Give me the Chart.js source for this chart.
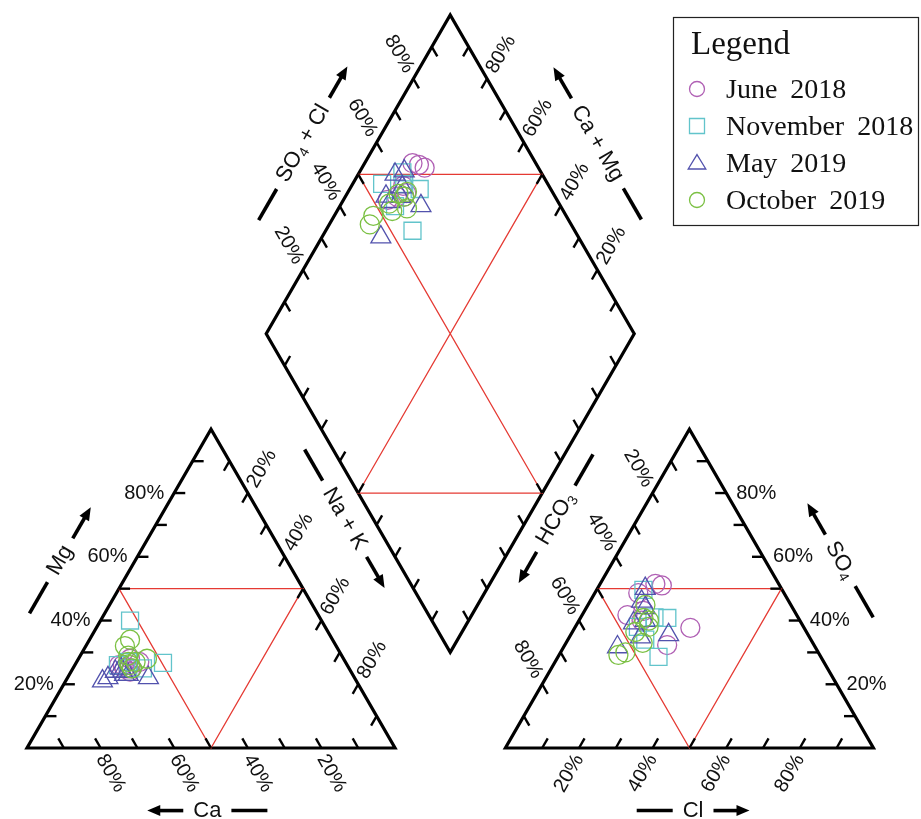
<!DOCTYPE html>
<html>
<head>
<meta charset="utf-8">
<title>Piper diagram</title>
<script src="https://cdn.jsdelivr.net/npm/chart.js@4.4.0/dist/chart.umd.min.js"></script>
<style>
    html, body { margin: 0; padding: 0; background: #fff; }
    #wrap { width: 921px; height: 819px; position: relative; }
</style>
</head>
<body>
<div id="wrap"><canvas id="piperChart"></canvas></div>
<script>
// series
const seriesNames = ['June 2018', 'November 2018', 'May 2019', 'October 2019'];
const seriesColors = ['#b060b4', '#62c4cb', '#5252ad', '#7bc043'];
const seriesShapes = ['circle', 'rect', 'triangle', 'circle'];

// cations in % meq/L: Mg and Na+K (Ca is the rest)
// anions in % meq/L: SO4 and Cl (HCO3 is the rest)
const juneMg = [26, 25, 27, 25, 26, 24, 28, 25];
const juneNa = [13, 15, 17, 14, 12, 16, 14, 16];
const juneSO4 = [51.5, 51, 37.7, 48.6, 41.7, 32.3, 40, 43];
const juneCl = [15, 17, 31.4, 11.8, 12.3, 27.8, 17, 16];

const novMg = [40, 26.7, 25, 26, 27, 25];
const novNa = [8, 23.6, 19, 11.7, 14, 15];
const novSO4 = [34, 28.6, 40.8, 49.6, 41, 38];
const novCl = [21, 27.3, 23.6, 12.7, 20, 17];

const mayMg = [24, 22, 23, 25, 22, 24, 21, 23];
const mayNa = [12, 22, 16, 13, 11, 14, 10, 15];
const maySO4 = [50, 35.5, 31.7, 39.2, 34.8, 44, 46, 40];
const mayCl = [13, 26.6, 14.6, 15.2, 19.3, 16, 14, 18];

const octMg = [34, 32, 28, 27, 26, 29, 25, 27];
const octNa = [11, 10.6, 18.6, 14, 15, 13, 16, 16];
const octSO4 = [29.2, 30, 40.8, 38, 36.4, 33, 44.9, 40];
const octCl = [16.1, 17.6, 17.1, 19.9, 17.1, 20.8, 15.6, 19];

const tickSteps = [10, 20, 30, 40, 50, 60, 70, 80, 90];
const tickLabels = ['20%', '40%', '60%', '80%'];

// piper geometry (triangle side = 1, gap between triangles = 0.3)
const SIN60 = Math.sqrt(3) / 2;
const GAP = 0.3;

function cationXY(mg, na) {
    return { x: (na + mg / 2) / 100, y: mg / 100 * SIN60 };
}
function anionXY(so4, cl) {
    return { x: 1 + GAP + (cl + so4 / 2) / 100, y: so4 / 100 * SIN60 };
}
// na = Na+K %, a = SO4+Cl %
function diamondXY(na, a) {
    const bx = 1 + GAP / 2, by = GAP / 2 * Math.tan(Math.PI / 3);
    const n = na / 100, s = a / 100;
    return { x: bx + (s - (1 - n)) / 2, y: by + (s + 1 - n) * SIN60 };
}

function buildPoints(mg, na, so4, cl) {
    const pts = [];
    mg.forEach((v, i) => pts.push(cationXY(v, na[i])));
    so4.forEach((v, i) => pts.push(anionXY(v, cl[i])));
    mg.forEach((v, i) => pts.push(diamondXY(na[i], so4[i] + cl[i])));
    return pts;
}

const seriesPoints = [
    buildPoints(juneMg, juneNa, juneSO4, juneCl),
    buildPoints(novMg, novNa, novSO4, novCl),
    buildPoints(mayMg, mayNa, maySO4, mayCl),
    buildPoints(octMg, octNa, octSO4, octCl)
];

const V = {
    ca: cationXY(0, 0), na: cationXY(0, 100), mg: cationXY(100, 0),
    hco3: anionXY(0, 0), cl: anionXY(0, 100), so4: anionXY(100, 0),
    L: diamondXY(0, 0), T: diamondXY(0, 100), R: diamondXY(100, 100), B: diamondXY(100, 0)
};

// visible window in piper units
const X_MIN = -0.0734, X_MAX = 2.4293;
const Y_MIN = -0.1929, Y_MAX = 2.0326;

function lineSet(pts, color, width) {
    return {
        data: pts, showLine: true, borderColor: color, borderWidth: width,
        pointRadius: 0, fill: false, tension: 0, clip: false,
        borderJoinStyle: 'miter', order: 10
    };
}

const datasets = [];
const radii = { circle: 9.5, rect: 12, triangle: 11.5 };
seriesNames.forEach((name, i) => {
    datasets.push({
        label: name,
        data: seriesPoints[i],
        pointStyle: seriesShapes[i],
        pointRadius: radii[seriesShapes[i]],
        pointBorderColor: seriesColors[i],
        pointBackgroundColor: 'rgba(0,0,0,0)',
        pointBorderWidth: 1.3,
        showLine: false,
        clip: false,
        order: 4 - i
    });
});

// red guide lines
datasets.push(lineSet([cationXY(50, 0), cationXY(50, 50), cationXY(0, 50), cationXY(50, 0)], '#e53a33', 1.3));
datasets.push(lineSet([anionXY(50, 0), anionXY(50, 50), anionXY(0, 50), anionXY(50, 0)], '#e53a33', 1.3));
datasets.push(lineSet([diamondXY(0, 50), diamondXY(50, 100), diamondXY(50, 0), diamondXY(100, 50), diamondXY(0, 50)], '#e53a33', 1.3));
// outlines
datasets.push(lineSet([V.ca, V.na, V.mg, V.ca, V.na], '#000', 3.2));
datasets.push(lineSet([V.hco3, V.cl, V.so4, V.hco3, V.cl], '#000', 3.2));
datasets.push(lineSet([V.B, V.R, V.T, V.L, V.B, V.R], '#000', 3.2));

const edges = [
    { from: V.ca, to: V.mg, dir: [1, 0], label: 'left' },
    { from: V.mg, to: V.na, dir: [-0.5, -SIN60], label: 'upR' },
    { from: V.na, to: V.ca, dir: [-0.5, SIN60], label: 'downR' },
    { from: V.cl, to: V.so4, dir: [-1, 0], label: 'right' },
    { from: V.so4, to: V.hco3, dir: [0.5, -SIN60], label: 'downL' },
    { from: V.hco3, to: V.cl, dir: [0.5, SIN60], label: 'upL' },
    { from: V.L, to: V.T, dir: [0.5, -SIN60], label: 'downL' },
    { from: V.R, to: V.T, dir: [-0.5, -SIN60], label: 'upR' },
    { from: V.B, to: V.L, dir: [0.5, SIN60], label: null },
    { from: V.B, to: V.R, dir: [-0.5, SIN60], label: null }
];

const titles = [
    { at: { x: 0.09, y: 0.51 }, rot: -60, parts: [['Mg']], before: 'dash', after: 'arrow' },
    { at: { x: 0.49, y: -0.17 }, rot: 0, parts: [['Ca']], before: 'arrow', after: 'dash' },
    { at: { x: 0.863, y: 0.623 }, rot: 60, parts: [['Na + K']], before: 'dash', after: 'arrow' },
    { at: { x: 1.437, y: 0.623 }, rot: -60, parts: [['HCO'], ['3', true]], before: 'arrow', after: 'dash' },
    { at: { x: 2.21, y: 0.51 }, rot: 60, parts: [['SO'], ['4', true]], before: 'arrow', after: 'dash' },
    { at: { x: 1.81, y: -0.17 }, rot: 0, parts: [['Cl']], before: 'dash', after: 'arrow' },
    { at: { x: 0.75, y: 1.643 }, rot: -60, parts: [['SO'], ['4', true], [' + Cl']], before: 'dash', after: 'arrow' },
    { at: { x: 1.55, y: 1.643 }, rot: 60, parts: [['Ca + Mg']], before: 'arrow', after: 'dash' }
];

const SANS = '"Liberation Sans", Arial, sans-serif';
const SERIF = '"Liberation Serif", "Times New Roman", serif';

function drawMarker(ctx, shape, x, y, r, color) {
    ctx.save();
    ctx.strokeStyle = color;
    ctx.lineWidth = 1.3;
    ctx.beginPath();
    if (shape === 'circle') {
        ctx.arc(x, y, r, 0, Math.PI * 2);
    } else if (shape === 'rect') {
        ctx.rect(x - r, y - r, 2 * r, 2 * r);
    } else {
        ctx.moveTo(x, y - r * 1.05);
        ctx.lineTo(x + r * 1.1, y + r * 0.75);
        ctx.lineTo(x - r * 1.1, y + r * 0.75);
        ctx.closePath();
    }
    ctx.stroke();
    ctx.restore();
}

function drawTickLabel(ctx, kind, e, text) {
    let ax = e.x, ay = e.y, rot = 0, align = 'left';
    if (kind === 'left') { ax -= 10; align = 'right'; }
    else if (kind === 'right') { ax += 10; }
    else if (kind === 'upR') { ax += 8 * 0.5; ay -= 8 * SIN60; rot = -60; }
    else if (kind === 'upL') { ay += 8; rot = -60; align = 'right'; }
    else if (kind === 'downR') { ay += 8; rot = 60; }
    else if (kind === 'downL') { ax -= 8.5 * 0.5; ay -= 8.5 * SIN60; rot = 60; align = 'right'; }
    ctx.save();
    ctx.translate(ax, ay);
    ctx.rotate(rot * Math.PI / 180);
    ctx.textAlign = align;
    ctx.textBaseline = 'middle';
    ctx.fillText(text, 0, 0);
    ctx.restore();
}

function drawDecor(ctx, kind, start, sign) {
    const len = 36;
    const x0 = sign * start, x1 = sign * (start + len);
    ctx.beginPath();
    if (kind === 'dash') {
        ctx.moveTo(x0, 0);
        ctx.lineTo(x1, 0);
        ctx.stroke();
    } else {
        const head = 13;
        ctx.moveTo(x0, 0);
        ctx.lineTo(x1 - sign * head * 0.6, 0);
        ctx.stroke();
        ctx.beginPath();
        ctx.moveTo(x1, 0);
        ctx.lineTo(x1 - sign * head, -5.5);
        ctx.lineTo(x1 - sign * head, 5.5);
        ctx.closePath();
        ctx.fill();
    }
}

const piperDecor = {
    id: 'piperDecor',
    afterDatasetsDraw(chart) {
        const ctx = chart.ctx;
        const xs = chart.scales.x, ys = chart.scales.y;
        const px = p => ({ x: xs.getPixelForValue(p.x), y: ys.getPixelForValue(p.y) });

        ctx.save();
        ctx.strokeStyle = '#000';
        ctx.fillStyle = '#111';
        ctx.lineCap = 'butt';

        // ticks and tick labels
        ctx.font = '20px ' + SANS;
        edges.forEach(edge => {
            tickSteps.forEach(t => {
                const f = t / 100;
                const p = { x: edge.from.x + (edge.to.x - edge.from.x) * f, y: edge.from.y + (edge.to.y - edge.from.y) * f };
                const q = { x: p.x + edge.dir[0] * 0.03, y: p.y + edge.dir[1] * 0.03 };
                const a = px(p), b = px(q);
                ctx.lineWidth = 2.4;
                ctx.beginPath();
                ctx.moveTo(a.x, a.y);
                ctx.lineTo(b.x, b.y);
                ctx.stroke();
                const lab = tickLabels.indexOf(t + '%');
                if (edge.label && lab >= 0) {
                    drawTickLabel(ctx, edge.label, a, tickLabels[lab]);
                }
            });
        });

        // axis titles with dashes and arrows
        titles.forEach(tt => {
            const c = px(tt.at);
            ctx.save();
            ctx.translate(c.x, c.y);
            ctx.rotate(tt.rot * Math.PI / 180);
            let w = 0;
            tt.parts.forEach(pt => {
                ctx.font = (pt[1] ? '14px ' : '22px ') + SANS;
                w += ctx.measureText(pt[0]).width;
            });
            let x = -w / 2;
            ctx.textAlign = 'left';
            ctx.textBaseline = 'middle';
            tt.parts.forEach(pt => {
                ctx.font = (pt[1] ? '14px ' : '22px ') + SANS;
                ctx.fillText(pt[0], x, pt[1] ? 6 : 0);
                x += ctx.measureText(pt[0]).width;
            });
            ctx.lineWidth = 3.6;
            ctx.fillStyle = '#000';
            drawDecor(ctx, tt.before, w / 2 + 10, -1);
            drawDecor(ctx, tt.after, w / 2 + 10, 1);
            ctx.restore();
        });

        // legend box
        const lx = 673, ly = 17, lw = 245, lh = 208;
        ctx.lineWidth = 1.2;
        ctx.strokeStyle = '#222';
        ctx.strokeRect(lx + 0.5, ly + 0.5, lw, lh);
        ctx.fillStyle = '#111';
        ctx.textAlign = 'left';
        ctx.textBaseline = 'alphabetic';
        ctx.font = '33px ' + SERIF;
        ctx.fillText('Legend', lx + 18, ly + 37);
        ctx.font = '28px ' + SERIF;
        if ('wordSpacing' in ctx) ctx.wordSpacing = '6px';
        const legendRadius = { circle: 7.5, rect: 7.5, triangle: 8 };
        seriesNames.forEach((name, i) => {
            const base = ly + 81 + i * 37;
            drawMarker(ctx, seriesShapes[i], lx + 24, base - 9, legendRadius[seriesShapes[i]], seriesColors[i]);
            ctx.fillStyle = '#111';
            ctx.fillText(name, lx + 53, base);
        });
        ctx.restore();
    }
};

document.addEventListener('DOMContentLoaded', function () {
    const ctx = document.getElementById('piperChart').getContext('2d');
    new Chart(ctx, {
        type: 'scatter',
        data: { datasets: datasets },
        options: {
            responsive: true,
            maintainAspectRatio: false,
            animation: false,
            events: [],
            layout: { padding: 0, autoPadding: false },
            scales: {
                x: { type: 'linear', min: X_MIN, max: X_MAX, display: false },
                y: { type: 'linear', min: Y_MIN, max: Y_MAX, display: false }
            },
            plugins: {
                legend: { display: false },
                tooltip: { enabled: false }
            }
        },
        plugins: [piperDecor]
    });
});
</script>
</body>
</html>
